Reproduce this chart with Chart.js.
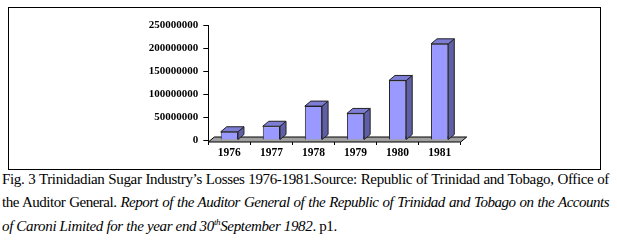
<!DOCTYPE html>
<html>
<head>
<meta charset="utf-8">
<script src="https://cdn.jsdelivr.net/npm/chart.js@4.4.1/dist/chart.umd.min.js"></script>
<style>
  html, body { margin: 0; padding: 0; background: #fff; }
  #page { position: relative; width: 617px; height: 248px; overflow: hidden; }
  #frame { position: absolute; left: 8px; top: 7px; width: 591px; height: 161px; border: 1px solid #000; }
  #wrap { position: absolute; left: 9px; top: 8px; width: 590px; height: 160px; }
  #caption { position: absolute; left: 2px; top: 168px; width: 607px;
    font-family: 'Liberation Serif', 'Times New Roman', serif; font-size: 15px; line-height: 23.3px;
    letter-spacing: -0.35px; color: #000; }
  #caption div { white-space: nowrap; }
  #caption .j { text-align: justify; text-align-last: justify; }
  #caption .tight { letter-spacing: -0.5px; }
  sup { font-size: 9px; line-height: 0; }
</style>
</head>
<body>
<div id="page">
  <div id="frame"></div>
  <div id="wrap"><canvas id="losses"></canvas></div>
  <div id="caption">
    <div class="j">Fig. 3 Trinidadian Sugar Industry’s Losses 1976-1981.Source: Republic of Trinidad and Tobago, Office of</div>
    <div class="j tight">the Auditor General. <i>Report of the Auditor General of the Republic of Trinidad and Tobago on the Accounts</i></div>
    <div><i>of Caroni Limited for the year end 30<sup>th</sup>September 1982</i>. p1.</div>
  </div>
</div>
<script>
var years = ["1976", "1977", "1978", "1979", "1980", "1981"];
var losses = [18000000, 30000000, 74000000, 58000000, 130000000, 210000000];
var yTicks = [0, 50000000, 100000000, 150000000, 200000000, 250000000];

var serif = "'Liberation Serif', 'Times New Roman', serif";
// depth of the fake 3d effect
var DX = 6, DY = 5;

var floorPlugin = {
  id: 'floor',
  beforeDatasetsDraw: function(chart) {
    var ctx = chart.ctx, a = chart.chartArea;
    var y0 = chart.scales.y.getPixelForValue(0);
    ctx.save();
    ctx.beginPath();
    ctx.moveTo(a.left, y0 + 2);
    ctx.lineTo(a.right, y0 + 2);
    ctx.lineTo(a.right + DX, y0 + 2 - DY);
    ctx.lineTo(a.left + DX, y0 + 2 - DY);
    ctx.closePath();
    ctx.fillStyle = '#a0a0a0';
    ctx.fill();
    ctx.lineWidth = 1;
    ctx.strokeStyle = '#000';
    ctx.stroke();
    ctx.restore();
  }
};

var bar3dPlugin = {
  id: 'bar3d',
  afterDatasetsDraw: function(chart) {
    var ctx = chart.ctx;
    var meta = chart.getDatasetMeta(0);
    ctx.save();
    ctx.lineWidth = 1;
    ctx.strokeStyle = '#222';
    meta.data.forEach(function(b) {
      var l = b.x - b.width / 2, r = b.x + b.width / 2;
      // side
      ctx.beginPath();
      ctx.moveTo(r, b.y);
      ctx.lineTo(r + DX, b.y - DY);
      ctx.lineTo(r + DX, b.base - DY);
      ctx.lineTo(r, b.base);
      ctx.closePath();
      ctx.fillStyle = '#5f5fa8';
      ctx.fill();
      ctx.stroke();
      // top
      ctx.beginPath();
      ctx.moveTo(l, b.y);
      ctx.lineTo(l + DX, b.y - DY);
      ctx.lineTo(r + DX, b.y - DY);
      ctx.lineTo(r, b.y);
      ctx.closePath();
      ctx.fillStyle = '#7d7dd6';
      ctx.fill();
      ctx.stroke();
    });
    ctx.restore();
  }
};

new Chart(document.getElementById('losses'), {
  type: 'bar',
  data: {
    labels: years,
    datasets: [{
      data: losses,
      backgroundColor: '#9999ff',
      borderColor: '#222',
      borderWidth: 1,
      categoryPercentage: 1,
      barPercentage: 0.41
    }]
  },
  options: {
    responsive: true,
    maintainAspectRatio: false,
    animation: false,
    layout: { padding: { left: 0, top: 17.5, right: 138.3, bottom: 0 } },
    plugins: { legend: { display: false }, tooltip: { enabled: false } },
    scales: {
      x: {
        border: { display: false },
        grid: { drawOnChartArea: false, tickLength: 5, color: '#000', offset: true },
        ticks: { color: '#000', padding: 1, font: { family: serif, weight: 'bold', size: 11.5 } },
        afterFit: function(s) { s.height = 28; }
      },
      y: {
        min: 0,
        max: 250000000,
        afterBuildTicks: function(s) { s.ticks = yTicks.map(function(v) { return { value: v }; }); },
        border: { display: true, color: '#000', width: 1 },
        grid: { drawOnChartArea: false, tickLength: 5, color: '#000' },
        ticks: { color: '#000', padding: 5, font: { family: serif, weight: 'bold', size: 11 },
          callback: function(v) { return String(v); } },
        afterFit: function(s) { s.width = 199.3; }
      }
    }
  },
  plugins: [floorPlugin, bar3dPlugin]
});
</script>
</body>
</html>
